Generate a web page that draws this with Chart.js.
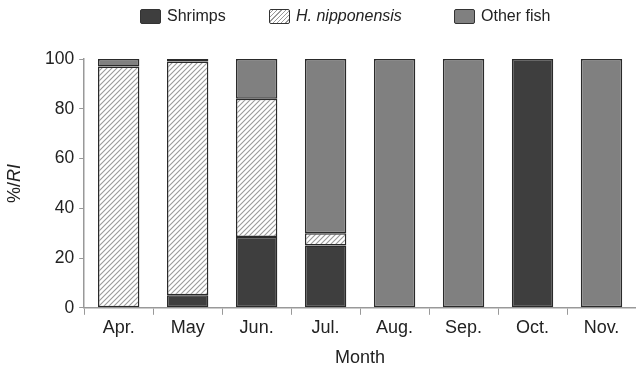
<!DOCTYPE html>
<html>
<head>
<meta charset="utf-8">
<script src="https://cdn.jsdelivr.net/npm/chart.js@4"></script>
<style>
  html, body { margin: 0; padding: 0; background: #fff; }
  #wrap { position: relative; width: 636px; height: 369px; }
  #legend { position: absolute; left: 0; top: 0; width: 636px; height: 32px;
            font-family: "Liberation Sans", Arial, sans-serif; font-size: 16px; color: #222; }
  .item { position: absolute; top: 7px; display: flex; align-items: center; }
  .box { width: 21px; height: 15px; border: 1.5px solid #333; border-radius: 2px; margin-right: 6px; box-sizing: border-box; }
</style>
</head>
<body>
<div id="wrap">
  <canvas id="chart" width="636" height="369"></canvas>
  <div id="legend">
    <div class="item" style="left:140px"><span class="box" style="background:#3e3e3e"></span><span>Shrimps</span></div>
    <div class="item" style="left:269px"><span class="box" style="background:repeating-linear-gradient(-45deg,#fff 0 2px,#9a9a9a 2px 3px)"></span><i>H. nipponensis</i></div>
    <div class="item" style="left:454px"><span class="box" style="background:#808080"></span><span>Other fish</span></div>
  </div>
</div>
<script>
// Months and %IRI for each prey group (null = not present)
const months = ['Apr.', 'May', 'Jun.', 'Jul.', 'Aug.', 'Sep.', 'Oct.', 'Nov.'];
const shrimps = [null, 5, 28.5, 25, null, null, 100, null];
const hNipponensis = [97, 94, 55.5, 5, null, null, null, null];
const otherFish = [3, 1, 16, 70, 100, 100, null, 100];
const yTicks = [0, 20, 40, 60, 80, 100];

// diagonal hatch fill for H. nipponensis
function makeHatch() {
    const c = document.createElement('canvas');
    c.width = 5; c.height = 5;
    const g = c.getContext('2d');
    g.fillStyle = '#fff';
    g.fillRect(0, 0, 5, 5);
    g.strokeStyle = '#9a9a9a';
    g.lineWidth = 1.1;
    g.beginPath();
    g.moveTo(0, 5); g.lineTo(5, 0);
    g.moveTo(-1, 1); g.lineTo(1, -1);
    g.moveTo(4, 6); g.lineTo(6, 4);
    g.stroke();
    return g.createPattern(c, 'repeat');
}

// y title "%/RI" with italic RI
const yTitlePlugin = {
    id: 'yTitle',
    afterDraw(chart) {
        const ctx = chart.ctx;
        const area = chart.chartArea;
        ctx.save();
        ctx.translate(15, (area.top + area.bottom) / 2);
        ctx.rotate(-Math.PI / 2);
        ctx.fillStyle = '#222';
        ctx.textBaseline = 'middle';
        ctx.font = '18px "Liberation Sans", Arial, sans-serif';
        const a = '%/';
        const wa = ctx.measureText(a).width;
        ctx.font = 'italic 18px "Liberation Sans", Arial, sans-serif';
        const wb = ctx.measureText('RI').width;
        const x0 = -(wa + wb) / 2;
        ctx.font = '18px "Liberation Sans", Arial, sans-serif';
        ctx.textAlign = 'left';
        ctx.fillText(a, x0, 0);
        ctx.font = 'italic 18px "Liberation Sans", Arial, sans-serif';
        ctx.fillText('RI', x0 + wa, 0);
        ctx.restore();
    }
};

Chart.defaults.font.family = '"Liberation Sans", Arial, sans-serif';
Chart.defaults.color = '#222';

const ctx = document.getElementById('chart').getContext('2d');
new Chart(ctx, {
    type: 'bar',
    data: {
        labels: months,
        datasets: [
            { label: 'Shrimps', data: shrimps, backgroundColor: '#3e3e3e' },
            { label: 'H. nipponensis', data: hNipponensis, backgroundColor: makeHatch() },
            { label: 'Other fish', data: otherFish, backgroundColor: '#808080' }
        ].map(d => Object.assign(d, {
            borderColor: '#2a2a2a',
            borderWidth: 1.5,
            borderSkipped: false,
            categoryPercentage: 1,
            barPercentage: 0.6
        }))
    },
    options: {
        responsive: false,
        animation: false,
        layout: { padding: { top: 59, left: 40, right: 0, bottom: 0 } },
        plugins: {
            legend: { display: false },
            tooltip: { enabled: false }
        },
        scales: {
            x: {
                stacked: true,
                offset: true,
                grid: { offset: true, drawOnChartArea: false, color: '#999', tickLength: 7 },
                border: { color: '#999', width: 1.5 },
                ticks: { font: { size: 18 }, padding: 2 },
                title: { display: true, text: 'Month', font: { size: 18 }, padding: { top: 7, bottom: 0 } }
            },
            y: {
                stacked: true,
                min: 0,
                max: 100,
                afterBuildTicks: s => { s.ticks = yTicks.map(v => ({ value: v })); },
                grid: { drawOnChartArea: false, color: '#999', tickLength: 5 },
                border: { color: '#999', width: 1.5 },
                ticks: { font: { size: 17.5 }, padding: 5 }
            }
        }
    },
    plugins: [yTitlePlugin]
});
</script>
</body>
</html>
